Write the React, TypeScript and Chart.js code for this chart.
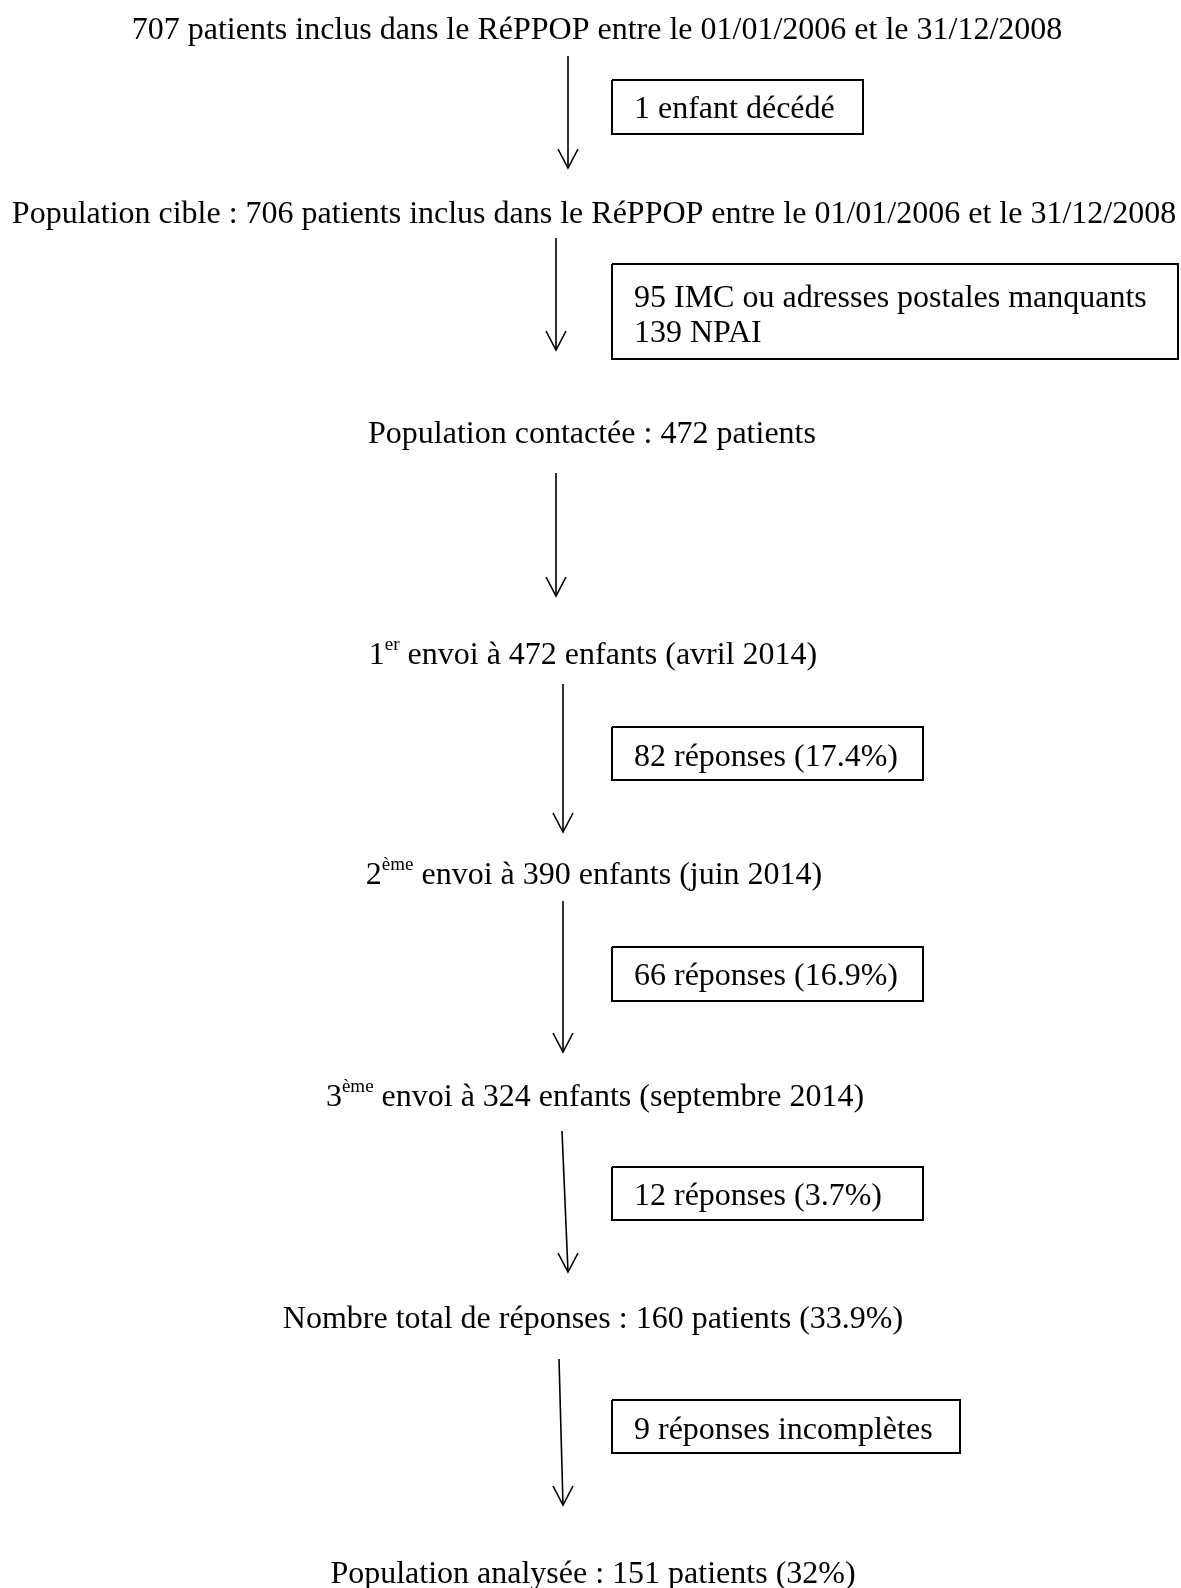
import React, { useEffect, useRef } from "react";
import { Chart, registerables } from "chart.js";
Chart.register(...registerables);

const W = 1181;
const H = 1588;

// Main flow steps (text, "^" marks a superscript suffix)
const stepLabels = [
  "707 patients inclus dans le RéPPOP entre le 01/01/2006 et le 31/12/2008",
  "Population cible : 706 patients inclus dans le RéPPOP entre le 01/01/2006 et le 31/12/2008",
  "Population contactée : 472 patients",
  "1^er envoi à 472 enfants (avril 2014)",
  "2^ème envoi à 390 enfants (juin 2014)",
  "3^ème envoi à 324 enfants (septembre 2014)",
  "Nombre total de réponses : 160 patients (33.9%)",
  "Population analysée : 151 patients (32%)",
];
const stepX = [597, 594, 592, 593, 594, 595, 593, 593];
const stepY = [31, 215, 435, 656, 876, 1098, 1320, 1575];

// Arrows between steps
const arrowTopX = [568, 556, 556, 563, 563, 562, 559];
const arrowTopY = [56, 238, 473, 684, 901, 1131, 1359];
const arrowTipX = [568, 556, 556, 563, 563, 568, 563];
const arrowTipY = [168, 350, 596, 832, 1052, 1272, 1505];

// Side boxes (exclusions / responses)
const boxLabels = [
  ["1 enfant décédé"],
  ["95 IMC ou adresses postales manquants", "139 NPAI"],
  ["82 réponses (17.4%)"],
  ["66 réponses (16.9%)"],
  ["12 réponses (3.7%)"],
  ["9 réponses incomplètes"],
];
const boxLeft = [612, 612, 612, 612, 612, 612];
const boxRight = [863, 1178, 923, 923, 923, 960];
const boxTop = [80, 264, 727, 947, 1167, 1400];
const boxBottom = [134, 359, 780, 1001, 1220, 1453];
const boxTextY = [[110], [299, 334], [758], [977], [1197], [1431]];

const FONT = '"Liberation Serif", "Times New Roman", serif';
const SIZE = 32;
const SUP = 19;

export default function App() {
  const ref = useRef<HTMLCanvasElement | null>(null);

  useEffect(() => {
    document.body.style.margin = "0";
    const canvas = ref.current;
    if (!canvas) return;

    const datasets: any[] = [];
    const lineStyle = {
      showLine: true,
      pointRadius: 0,
      borderColor: "#000",
      backgroundColor: "#000",
      tension: 0,
      fill: false,
    };
    for (let i = 0; i < arrowTopX.length; i++) {
      datasets.push({
        ...lineStyle,
        borderWidth: 1.6,
        data: [
          { x: arrowTopX[i], y: arrowTopY[i] },
          { x: arrowTipX[i], y: arrowTipY[i] },
        ],
      });
      datasets.push({
        ...lineStyle,
        borderWidth: 1.6,
        data: [
          { x: arrowTipX[i] - 10, y: arrowTipY[i] - 19 },
          { x: arrowTipX[i], y: arrowTipY[i] },
          { x: arrowTipX[i] + 10, y: arrowTipY[i] - 19 },
        ],
      });
    }
    for (let i = 0; i < boxLeft.length; i++) {
      datasets.push({
        ...lineStyle,
        borderWidth: 2,
        borderJoinStyle: "miter",
        data: [
          { x: boxLeft[i], y: boxTop[i] },
          { x: boxRight[i], y: boxTop[i] },
          { x: boxRight[i], y: boxBottom[i] },
          { x: boxLeft[i], y: boxBottom[i] },
          { x: boxLeft[i], y: boxTop[i] },
        ],
      });
    }

    const textPlugin = {
      id: "flowText",
      afterDatasetsDraw(chart: any) {
        const ctx = chart.ctx;
        const xs = chart.scales.x;
        const ys = chart.scales.y;
        ctx.save();
        ctx.fillStyle = "#000";
        ctx.textBaseline = "middle";
        ctx.textAlign = "left";
        const main = `${SIZE}px ${FONT}`;
        const sup = `${SUP}px ${FONT}`;
        stepLabels.forEach((label, i) => {
          let parts: { t: string; sup: boolean }[] = [];
          const k = label.indexOf("^");
          if (k >= 0) {
            const sp = label.indexOf(" ", k);
            parts = [
              { t: label.slice(0, k), sup: false },
              { t: label.slice(k + 1, sp), sup: true },
              { t: label.slice(sp), sup: false },
            ];
          } else parts = [{ t: label, sup: false }];
          let total = 0;
          parts.forEach((p) => {
            ctx.font = p.sup ? sup : main;
            total += ctx.measureText(p.t).width;
          });
          let x = xs.getPixelForValue(stepX[i]) - total / 2;
          const y = ys.getPixelForValue(stepY[i]);
          parts.forEach((p) => {
            ctx.font = p.sup ? sup : main;
            ctx.fillText(p.t, x, p.sup ? y - 11 : y);
            x += ctx.measureText(p.t).width;
          });
        });
        ctx.font = main;
        boxLabels.forEach((lines, i) => {
          lines.forEach((t, j) => {
            ctx.fillText(
              t,
              xs.getPixelForValue(boxLeft[i] + 22),
              ys.getPixelForValue(boxTextY[i][j])
            );
          });
        });
        ctx.restore();
      },
    };

    const chart = new Chart(canvas, {
      type: "scatter",
      data: { datasets },
      options: {
        animation: false,
        responsive: false,
        maintainAspectRatio: false,
        layout: { padding: 0 },
        plugins: {
          legend: { display: false },
          tooltip: { enabled: false },
        },
        scales: {
          x: { type: "linear", min: 0, max: W, display: false },
          y: { type: "linear", min: 0, max: H, reverse: true, display: false },
        },
      },
      plugins: [textPlugin],
    });
    return () => chart.destroy();
  }, []);

  return (
    <canvas
      ref={ref}
      width={W}
      height={H}
      style={{ display: "block", width: W, height: H, background: "#fff" }}
    />
  );
}
